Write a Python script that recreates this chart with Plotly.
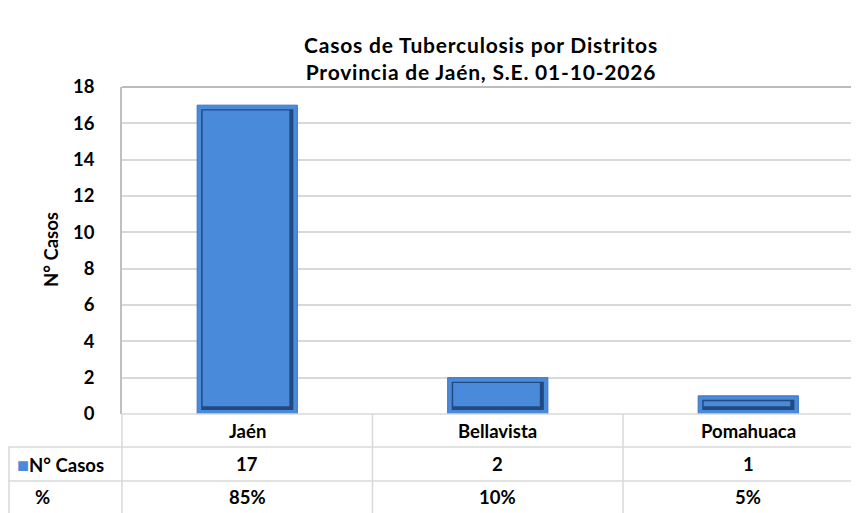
import plotly.graph_objects as go

categories = ["Jaén", "Bellavista", "Pomahuaca"]
casos = [17, 2, 1]
porcentajes = ["85%", "10%", "5%"]
series_name = "N° Casos"
y_ticks = [0, 2, 4, 6, 8, 10, 12, 14, 16, 18]
title_lines = ["Casos de Tuberculosis por Distritos", "Provincia de Jaén, S.E. 01-10-2026"]

OFF = 8  # page body margin in the browser
W, H = 859 - OFF, 513 - OFF
L, T = 122 - OFF, 87 - OFF
B = H - (414 - OFF)
R = 0
PW, PH = W - L - R, H - T - B

def py(px):  # reference pixel y -> paper y
    return (H - B - (px - OFF)) / PH

def pxx(px):  # reference pixel x -> paper x
    return (px - OFF - L) / PW

FONT = "Lato"
GRID = "#D9D9D9"
TS = 18.5
BLUE = "#4A8ADB"
fig = go.Figure()

# bevelled bar: outer rim, dark recess, inner face
BW = 0.4
RIM_X, RIM_Y = 0.016, 0.22
fig.add_trace(go.Bar(
    x=categories, y=casos, width=BW, name=series_name,
    marker=dict(color=BLUE, line=dict(color="#3E74BD", width=1)),
    showlegend=False))
fig.add_trace(go.Bar(
    x=categories, y=[v - 2 * RIM_Y for v in casos], base=[RIM_Y] * len(casos),
    width=BW - 2 * RIM_X, offset=-BW / 2 + RIM_X,
    marker=dict(color="#224A80", line=dict(width=0)),
    hoverinfo="skip", showlegend=False))
fig.add_trace(go.Bar(
    x=categories, y=[v - 2 * RIM_Y - 0.28 for v in casos], base=[RIM_Y + 0.2] * len(casos),
    width=BW - 2 * RIM_X - 0.022, offset=-BW / 2 + RIM_X + 0.006,
    marker=dict(color=BLUE, line=dict(width=0)),
    hoverinfo="skip", showlegend=False))

fig.update_layout(
    width=W, height=H,
    margin=dict(l=L, r=R, t=T, b=B),
    paper_bgcolor="white", plot_bgcolor="white",
    barmode="overlay",
    font=dict(family=FONT, color="black"),
    xaxis=dict(range=[-0.5, 2.442], showticklabels=False, showgrid=False,
               zeroline=False, showline=False, ticks=""),
    yaxis=dict(range=[0, 18], tickvals=y_ticks, showgrid=True, gridcolor=GRID, gridwidth=1.5,
               zeroline=False, showline=True, linecolor="#BFBFBF", linewidth=1.5,
               ticks="", ticklabelstandoff=22,
               tickfont=dict(family=FONT, size=TS, color="black", weight="bold")),
    showlegend=False,
)

anns = []
# title
title_html = "<br>".join(f'<span style="letter-spacing:0.8px"><b>{t}</b></span>' for t in title_lines)
anns.append(dict(text=title_html, xref="paper", yref="paper", x=pxx(481), y=py(58.5),
                 showarrow=False, font=dict(size=21, family=FONT), xanchor="center", yanchor="middle"))
# y title
anns.append(dict(text="<b>N° Casos</b>", xref="paper", yref="paper", x=pxx(51), y=py(250), textangle=-90,
                 showarrow=False, font=dict(size=TS, family=FONT), xanchor="center", yanchor="middle"))
# table rows
rows_y = [431, 464, 497]
for c, v, p in zip(categories, casos, porcentajes):
    for txt, yy in zip([c, v, p], rows_y):
        anns.append(dict(text=f"<b>{txt}</b>", x=c, xref="x", yref="paper", y=py(yy), showarrow=False,
                         xanchor="center", yanchor="middle", font=dict(size=TS, family=FONT)))
anns.append(dict(text=f'<span style="color:{BLUE};font-size:20px">■</span><b>{series_name}</b>',
                 xref="paper", yref="paper", x=pxx(15), y=py(464), xanchor="left", yanchor="middle",
                 showarrow=False, font=dict(size=TS, family=FONT)))
anns.append(dict(text="<b>%</b>", xref="paper", yref="paper", x=pxx(42), y=py(497), xanchor="center",
                 yanchor="middle", showarrow=False, font=dict(size=TS, family=FONT)))
fig.update_layout(annotations=anns)

shapes = []
line = dict(color=GRID, width=1.5)
# top border darker
shapes.append(dict(type="line", xref="paper", yref="paper", x0=0, x1=1, y0=1, y1=1,
                   line=dict(color="#A6A6A6", width=1.5)))
# bottom axis line / table top
shapes.append(dict(type="line", xref="paper", yref="paper", x0=0, x1=1, y0=0, y1=0, line=line))
for yy in (447, 481):
    shapes.append(dict(type="line", xref="paper", yref="paper", x0=pxx(8), x1=1, y0=py(yy), y1=py(yy), line=line))
# vertical table lines
shapes.append(dict(type="line", xref="paper", yref="paper", x0=0, x1=0, y0=0, y1=py(513), line=line))
shapes.append(dict(type="line", xref="paper", yref="paper", x0=pxx(9), x1=pxx(9), y0=py(447), y1=py(513), line=line))
for xb in (0.5, 1.5):
    shapes.append(dict(type="line", xref="x", yref="paper", x0=xb, x1=xb, y0=0, y1=py(513), line=line))
fig.update_layout(shapes=shapes)

fig.write_html("out.html")
